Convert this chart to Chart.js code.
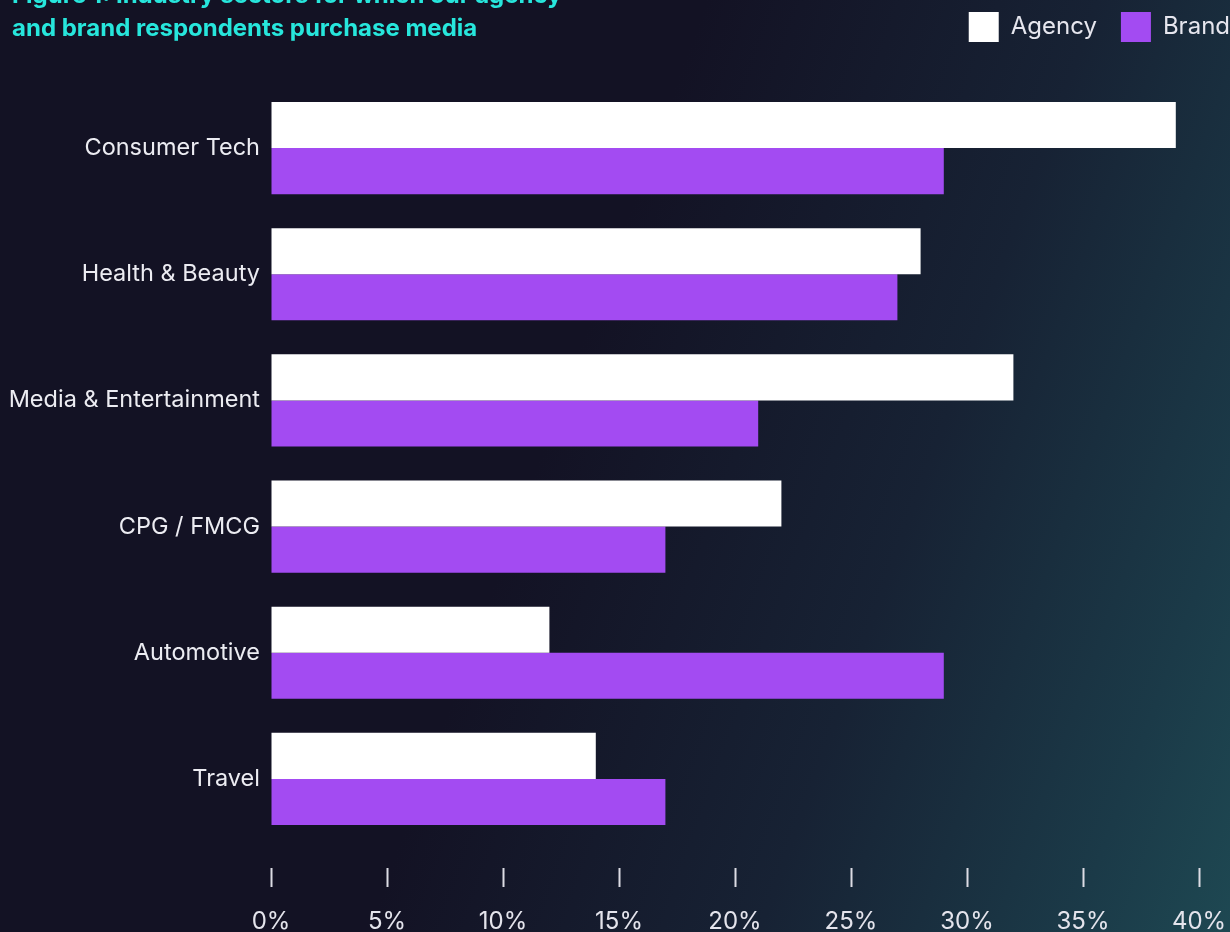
<!DOCTYPE html>
<html>
<head>
<meta charset="utf-8">
<script src="https://cdn.jsdelivr.net/npm/chart.js@4/dist/chart.umd.min.js"></script>
<style>
  html, body { margin: 0; padding: 0; }
  body {
    width: 1230px; height: 932px; overflow: hidden; position: relative;
    background: linear-gradient(110deg, #131224 0%, #131224 45%, #172234 70%, #1b3a48 90%, #1e4852 100%);
    font-family: Inter, "Noto Sans", sans-serif;
  }
  #title {
    position: absolute; left: 12px; top: -22px;
    color: #27e6dc; font-weight: 700; font-size: 24px; line-height: 33px;
    white-space: nowrap; z-index: 2;
  }
  #wrap { position: absolute; left: 0; top: 0; width: 1230px; height: 932px; }
</style>
</head>
<body>
<div id="title">Figure 1: Industry sectors for which our agency<br>and brand respondents purchase media</div>
<div id="wrap"><canvas id="chart"></canvas></div>
<script>
// Sectors and share of respondents buying media in each (%)
const sectors = ["Consumer Tech", "Health & Beauty", "Media & Entertainment", "CPG / FMCG", "Automotive", "Travel"];
const agencyShare = [39, 28, 32, 22, 12, 14];
const brandShare  = [29, 27, 21, 17, 29, 17];
const xTickValues = [0, 5, 10, 15, 20, 25, 30, 35, 40];

// Layout constants (px)
const LEGEND_TOP = 12;      // top of the legend swatches
const PLOT_TOP = 85;        // where the bars region starts
const AXIS_BAND = 90;       // height reserved below the bars for ticks + labels
const LABEL_COLUMN = 271;   // width of the sector-name column
const RIGHT_GUTTER = 31;    // room right of the 40% tick

// Stretch the legend box so the plot starts at PLOT_TOP
const legendBand = {
  id: "legendBand",
  afterInit(chart) {
    const legend = chart.legend;
    if (!legend) return;
    const baseFit = legend.fit;
    legend.fit = function () {
      baseFit.call(this);
      this.height = PLOT_TOP - LEGEND_TOP;
    };
  }
};

new Chart(document.getElementById("chart"), {
  type: "bar",
  data: {
    labels: sectors,
    datasets: [
      { label: "Agency\u2003", data: agencyShare, backgroundColor: "#ffffff", borderWidth: 0 },
      { label: "Brand",  data: brandShare,  backgroundColor: "#a34bf2", borderWidth: 0 }
    ]
  },
  plugins: [legendBand],
  options: {
    indexAxis: "y",
    responsive: true,
    maintainAspectRatio: false,
    animation: false,
    layout: { padding: { top: LEGEND_TOP, right: 0, bottom: 0, left: 0 } },
    datasets: { bar: { categoryPercentage: 0.73, barPercentage: 1.0 } },
    plugins: {
      tooltip: { enabled: false },
      legend: {
        position: "top",
        align: "end",
        labels: {
          color: "#e6e6ee",
          font: { family: "Inter", size: 24 },
          boxWidth: 30,
          boxHeight: 30,
          padding: 0
        }
      }
    },
    scales: {
      x: {
        min: 0,
        max: 40,
        afterBuildTicks: (scale) => { scale.ticks = xTickValues.map(v => ({ value: v })); },
        afterFit: (scale) => {
          scale.height = AXIS_BAND;
          scale.paddingLeft = 0;
          scale.paddingRight = RIGHT_GUTTER;
        },
        border: { display: false },
        grid: {
          drawOnChartArea: false,
          drawTicks: true,
          tickLength: 45,
          tickWidth: 2,
          tickColor: "#dcdce4",
          tickBorderDash: [0, 26, 19, 100]
        },
        ticks: {
          color: "#e4e4ec",
          font: { family: "Inter", size: 24 },
          padding: 20,
          callback: (v) => v + "%"
        }
      },
      y: {
        border: { display: false },
        grid: { display: false, drawTicks: false },
        afterFit: (scale) => { scale.width = LABEL_COLUMN; },
        ticks: {
          color: "#ececf2",
          font: { family: "Inter", size: 23.5 },
          padding: 11
        }
      }
    }
  }
});
</script>
</body>
</html>
